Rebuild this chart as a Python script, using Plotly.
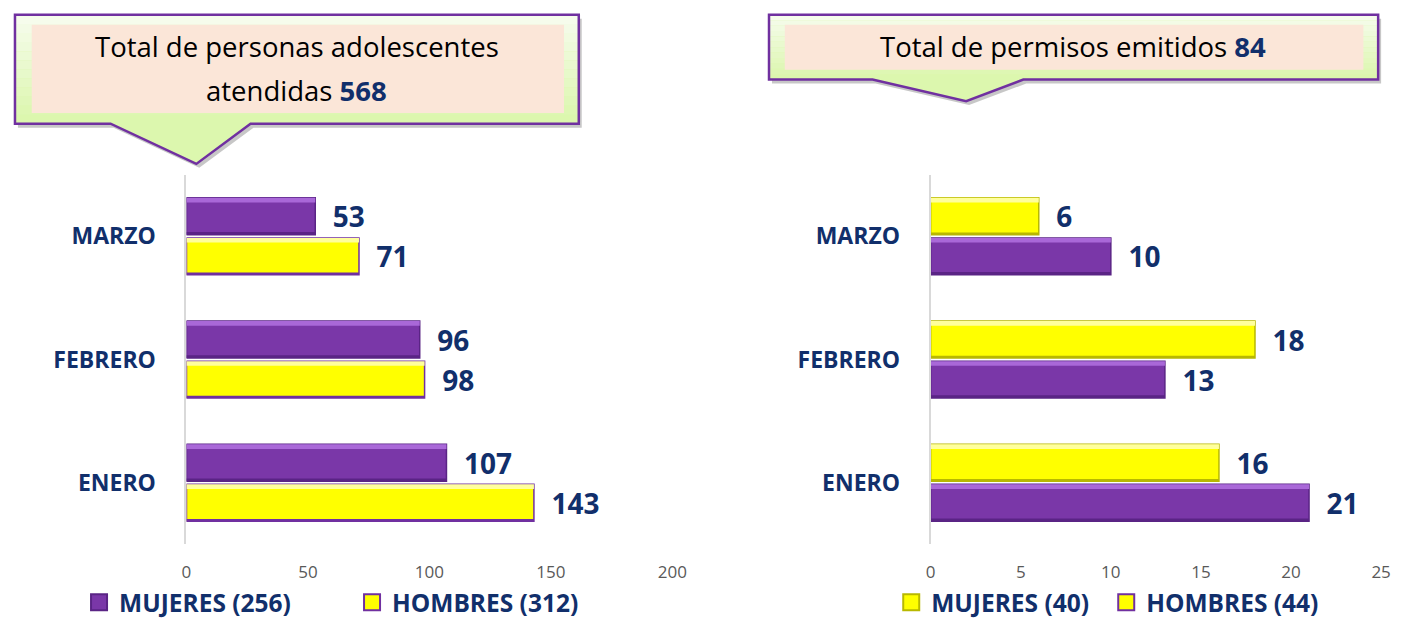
import plotly.graph_objects as go

# ---------------- data ----------------
months = ["ENERO", "FEBRERO", "MARZO"]
left_mujeres = [107, 96, 53]
left_hombres = [143, 98, 71]
right_mujeres = [16, 18, 6]
right_hombres = [21, 13, 10]
left_ticks = [0, 50, 100, 150, 200]
right_ticks = [0, 5, 10, 15, 20, 25]
left_title_1 = "Total de personas adolescentes"
left_title_2 = "atendidas"
right_title = "Total de permisos emitidos"

# ---------------- style ----------------
OFF = 8                      # default body margin of the page
W, H = 1404 - OFF, 625 - OFF
NAVY = "#112F6B"
PURPLE = "#7A37A8"
PURPLE_DARK = "#5A2485"
PURPLE_LIGHT = "#A968D8"
YELLOW = "#FFFF00"
YELLOW_LIGHT = "#FFFF9C"
OLIVE = "#B8B800"
BORDER = "#7030A0"
FONT = "Open Sans"

BARGAP, GROUPGAP = 0.35, 0.08
SLOT = (1 - BARGAP) / 2
BAR_W = SLOT * (1 - GROUPGAP)
CENTERS = [-SLOT / 2, SLOT / 2]    # bottom trace, top trace


def px(x):
    return (x - OFF) / W


def py(y):
    return 1 - (y - OFF) / H


fig = go.Figure()

label_tpl = "\u00a0\u00a0%{x}"
label_font = dict(family=FONT, size=28, color=NAVY, weight="bold")


def main_bar(vals, fill, line, xa, ya):
    fig.add_trace(go.Bar(
        y=months, x=vals, orientation="h",
        marker=dict(color=fill, line=dict(color=line, width=1.5)),
        texttemplate=label_tpl, textposition="outside", cliponaxis=False,
        constraintext="none", textfont=label_font, hoverinfo="skip",
        showlegend=False, xaxis=xa, yaxis=ya))


def bevel(vals, slot, top_c, bot_c, xa, ya, top_w=0.038, bot_w=0.022):
    c = CENTERS[slot]
    fig.add_trace(go.Bar(
        y=months, x=vals, orientation="h", offset=c + BAR_W / 2 - top_w, width=top_w,
        marker=dict(color=top_c, line=dict(width=0)), hoverinfo="skip",
        showlegend=False, xaxis=xa, yaxis=ya))
    fig.add_trace(go.Bar(
        y=months, x=vals, orientation="h", offset=c - BAR_W / 2, width=bot_w,
        marker=dict(color=bot_c, line=dict(width=0)), hoverinfo="skip",
        showlegend=False, xaxis=xa, yaxis=ya))


# Left chart: Hombres (bottom bar, yellow) then Mujeres (top bar, purple)
main_bar(left_hombres, YELLOW, BORDER, "x", "y")
main_bar(left_mujeres, PURPLE, PURPLE_DARK, "x", "y")
# Right chart: Hombres (bottom, purple) then Mujeres (top, yellow)
main_bar(right_hombres, PURPLE, PURPLE_DARK, "x2", "y2")
main_bar(right_mujeres, YELLOW, OLIVE, "x2", "y2")

# bevel highlights (overlay axes)
bevel(left_hombres, 0, YELLOW_LIGHT, BORDER, "x3", "y3", bot_w=0.018)
bevel(left_mujeres, 1, PURPLE_LIGHT, PURPLE_DARK, "x3", "y3")
bevel(right_hombres, 0, PURPLE_LIGHT, PURPLE_DARK, "x4", "y4")
bevel(right_mujeres, 1, YELLOW_LIGHT, OLIVE, "x4", "y4", bot_w=0.018)


# Legend entries
def legend_entry(name, fill, line, legend, xa, ya):
    fig.add_trace(go.Scatter(
        x=[None], y=[None], mode="markers", name=name,
        marker=dict(symbol="square", size=16, color=fill,
                    line=dict(color=line, width=2)),
        legend=legend, xaxis=xa, yaxis=ya, showlegend=True))


legend_entry(f"MUJERES ({sum(left_mujeres)})", PURPLE, PURPLE_DARK, "legend", "x", "y")
legend_entry(f"HOMBRES ({sum(left_hombres)})", YELLOW, BORDER, "legend", "x", "y")
legend_entry(f"MUJERES ({sum(right_mujeres)})", YELLOW, OLIVE, "legend2", "x2", "y2")
legend_entry(f"HOMBRES ({sum(right_hombres)})", YELLOW, BORDER, "legend2", "x2", "y2")

legend_font = dict(family=FONT, size=24.5, color=NAVY, weight="bold")
tick_font = dict(family=FONT, size=17, color="#595959")
cat_font = dict(family=FONT, size=23, color=NAVY, weight="bold")

ydom = [py(555), py(178)]
yrange = [-0.5, len(months) - 0.5]
left_range = [left_ticks[0], left_ticks[-1]]
right_range = [right_ticks[0], right_ticks[-1]]

fig.update_layout(
    width=W, height=H,
    margin=dict(l=0, r=0, t=0, b=0),
    paper_bgcolor="white", plot_bgcolor="rgba(0,0,0,0)",
    barmode="group", bargap=BARGAP, bargroupgap=GROUPGAP,
    font=dict(family=FONT),
    xaxis=dict(domain=[px(184), px(677)], range=left_range, tickvals=left_ticks,
               showgrid=False, zeroline=False, showline=False,
               tickfont=tick_font, ticklabelstandoff=16, anchor="y"),
    yaxis=dict(domain=ydom, categoryorder="array", categoryarray=months, range=yrange,
               showgrid=False, zeroline=False, showline=True,
               linecolor="#D9D9D9", linewidth=2,
               tickfont=cat_font, ticklabelstandoff=24, anchor="x"),
    xaxis2=dict(domain=[px(939), px(1396)], range=right_range, tickvals=right_ticks,
                showgrid=False, zeroline=False, showline=False,
                tickfont=tick_font, ticklabelstandoff=16, anchor="y2"),
    yaxis2=dict(domain=ydom, categoryorder="array", categoryarray=months, range=yrange,
                showgrid=False, zeroline=False, showline=True,
                linecolor="#D9D9D9", linewidth=2,
                tickfont=cat_font, ticklabelstandoff=24, anchor="x2"),
    xaxis3=dict(overlaying="x", range=left_range, visible=False, anchor="y3"),
    yaxis3=dict(overlaying="y", categoryorder="array", categoryarray=months,
                range=yrange, visible=False, anchor="x3"),
    xaxis4=dict(overlaying="x2", range=right_range, visible=False, anchor="y4"),
    yaxis4=dict(overlaying="y2", categoryorder="array", categoryarray=months,
                range=yrange, visible=False, anchor="x4"),
    legend=dict(orientation="h", x=px(75), y=py(614), xanchor="left",
                yanchor="middle", font=legend_font, entrywidth=228,
                bgcolor="rgba(0,0,0,0)", itemclick=False),
    legend2=dict(orientation="h", x=px(899), y=py(614), xanchor="left",
                 yanchor="middle", font=legend_font, entrywidth=170,
                 bgcolor="rgba(0,0,0,0)", itemclick=False),
)

# ---------------- callout boxes ----------------
shapes = []
annotations = []


def callout(x0, y0, x1, y1, pl, pt, pr, tipy, ix0, iy0, ix1, iy1):
    def outline(dx, dy):
        return (f"M {px(x0+dx)},{py(y0+dy)} L {px(x1+dx)},{py(y0+dy)} "
                f"L {px(x1+dx)},{py(y1+dy)} L {px(pr+dx)},{py(y1+dy)} "
                f"L {px(pt+dx)},{py(tipy+dy)} L {px(pl+dx)},{py(y1+dy)} "
                f"L {px(x0+dx)},{py(y1+dy)} Z")
    shapes.append(dict(type="path", path=outline(3, 4), xref="paper", yref="paper",
                       fillcolor="rgba(0,0,0,0.22)", line=dict(width=0)))
    shapes.append(dict(type="path", path=outline(0, 0), xref="paper", yref="paper",
                       fillcolor="#DCF7AE", line=dict(width=0)))
    top_c = (246, 252, 236)
    bot_c = (220, 247, 174)
    n = 12
    for i in range(n):
        ya = y0 + (y1 - y0) * i / n
        yb = y0 + (y1 - y0) * (i + 1) / n
        t = i / (n - 1)
        c = tuple(int(top_c[k] + (bot_c[k] - top_c[k]) * t) for k in range(3))
        shapes.append(dict(type="rect", xref="paper", yref="paper",
                           x0=px(x0), x1=px(x1), y0=py(yb), y1=py(ya),
                           fillcolor=f"rgb{c}", line=dict(width=0)))
    shapes.append(dict(type="rect", xref="paper", yref="paper",
                       x0=px(ix0), x1=px(ix1), y0=py(iy1), y1=py(iy0),
                       fillcolor="#FBE6D8", line=dict(width=0)))
    shapes.append(dict(type="path", path=outline(0, 0), xref="paper", yref="paper",
                       fillcolor="rgba(0,0,0,0)", line=dict(color=BORDER, width=2.5)))


callout(10, 15, 582, 126, 107, 194, 249, 167, 27, 25, 567, 115)
callout(775, 15, 1393, 81, 880, 975, 1033, 103, 791, 25, 1378, 71)

num_style = f"<span style='color:{NAVY}'><b>%s</b></span>"
title_font = dict(family=FONT, size=27.5, color="#000000")
annotations.append(dict(text=left_title_1, x=px(296), y=py(47), xref="paper", yref="paper",
                        showarrow=False, font=title_font, xanchor="center", yanchor="middle"))
annotations.append(dict(text=left_title_2 + " " + num_style % (sum(left_mujeres) + sum(left_hombres)),
                        x=px(296), y=py(92), xref="paper", yref="paper",
                        showarrow=False, font=title_font, xanchor="center", yanchor="middle"))
annotations.append(dict(text=right_title + " " + num_style % (sum(right_mujeres) + sum(right_hombres)),
                        x=px(1083), y=py(47), xref="paper", yref="paper",
                        showarrow=False, font=title_font, xanchor="center", yanchor="middle"))

fig.update_layout(shapes=shapes, annotations=annotations)

fig.write_html("out.html", config={"displayModeBar": False})
